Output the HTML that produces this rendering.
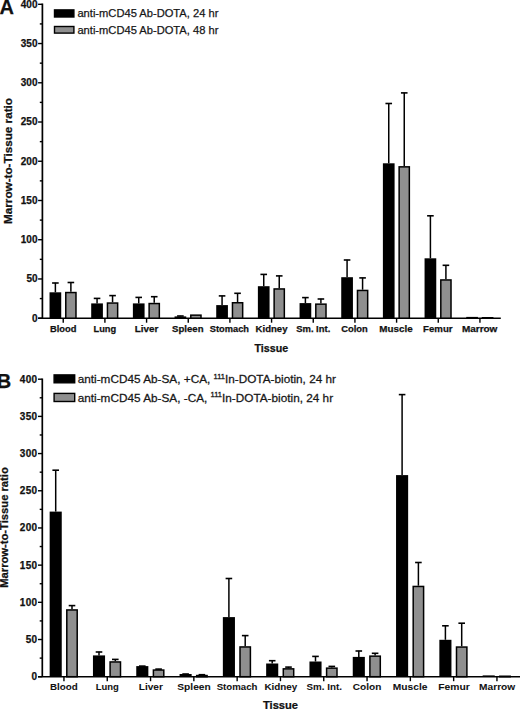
<!DOCTYPE html>
<html><head><meta charset="utf-8">
<style>
html,body{margin:0;padding:0;background:#fff;}
body{width:520px;height:709px;overflow:hidden;}
svg{display:block;}
text{font-family:"Liberation Sans",sans-serif;fill:#111;stroke:#111;stroke-width:0.25px;}
.tk{font-size:10px;font-weight:bold;text-anchor:end;}
.tkb{font-size:10px;font-weight:bold;text-anchor:end;letter-spacing:0.3px;}
.cl{font-weight:bold;}
.clb{font-size:9px;font-weight:bold;text-anchor:middle;letter-spacing:0.65px;}
.tt{font-size:11px;font-weight:bold;text-anchor:middle;}
.yt{font-size:11.3px;font-weight:bold;text-anchor:middle;}
.pl{font-size:20px;font-weight:bold;}
.lg{font-size:11.15px;fill:#1a1a1a;}
.lgb{font-size:11px;fill:#1a1a1a;}
.sup{font-size:7px;fill:#1a1a1a;}
</style></head>
<body>
<svg width="520" height="709" viewBox="0 0 520 709">
<rect width="520" height="709" fill="#fff"/>
<text x="-0.6" y="13.9" class="pl">A</text>
<text x="-3.2" y="387.6" class="pl">B</text>
<text class="yt" transform="translate(11.6,161) rotate(-90)" textLength="126" lengthAdjust="spacingAndGlyphs">Marrow-to-Tissue ratio</text>
<text class="yt" transform="translate(7.9,527.5) rotate(-90)" textLength="120.6" lengthAdjust="spacingAndGlyphs">Marrow-to-Tissue ratio</text>
<!-- legend A -->
<rect x="54.5" y="9.9" width="19.4" height="7.1" fill="#000" stroke="#000" stroke-width="1.4"/>
<rect x="54.5" y="26.5" width="19.4" height="6.6" fill="#8f8f8f" stroke="#000" stroke-width="1.4"/>
<text x="77.4" y="17.4" class="lg">anti-mCD45 Ab-DOTA, 24 hr</text>
<text x="77.4" y="33.7" class="lg">anti-mCD45 Ab-DOTA, 48 hr</text>
<!-- legend B -->
<rect x="54.1" y="374.9" width="20.6" height="7.9" fill="#000" stroke="#000" stroke-width="1.4"/>
<rect x="54.1" y="393.4" width="20.6" height="8.1" fill="#8f8f8f" stroke="#000" stroke-width="1.4"/>
<text transform="translate(77.7,383) scale(1.072,1)" class="lgb">anti-mCD45 Ab-SA, +CA, <tspan class="sup" dy="-4.4">111</tspan><tspan dy="4.4">In-DOTA-biotin, 24 hr</tspan></text>
<text transform="translate(77.7,401.5) scale(1.072,1)" class="lgb">anti-mCD45 Ab-SA, -CA, <tspan class="sup" dy="-4.4">111</tspan><tspan dy="4.4">In-DOTA-biotin, 24 hr</tspan></text>
<line x1="42.4" y1="3.5999999999999996" x2="42.4" y2="318.2" stroke="#000" stroke-width="1.7"/>
<line x1="38.1" y1="318.2" x2="500.8" y2="318.2" stroke="#000" stroke-width="1.5"/>
<line x1="38.1" y1="318.20" x2="42.4" y2="318.20" stroke="#000" stroke-width="1.4"/>
<text x="37.5" y="321.60" class="tk">0</text>
<line x1="39.8" y1="298.58" x2="42.4" y2="298.58" stroke="#000" stroke-width="1.4"/>
<line x1="38.1" y1="278.96" x2="42.4" y2="278.96" stroke="#000" stroke-width="1.4"/>
<text x="37.5" y="282.36" class="tk">50</text>
<line x1="39.8" y1="259.34" x2="42.4" y2="259.34" stroke="#000" stroke-width="1.4"/>
<line x1="38.1" y1="239.72" x2="42.4" y2="239.72" stroke="#000" stroke-width="1.4"/>
<text x="37.5" y="243.12" class="tk">100</text>
<line x1="39.8" y1="220.11" x2="42.4" y2="220.11" stroke="#000" stroke-width="1.4"/>
<line x1="38.1" y1="200.49" x2="42.4" y2="200.49" stroke="#000" stroke-width="1.4"/>
<text x="37.5" y="203.89" class="tk">150</text>
<line x1="39.8" y1="180.87" x2="42.4" y2="180.87" stroke="#000" stroke-width="1.4"/>
<line x1="38.1" y1="161.25" x2="42.4" y2="161.25" stroke="#000" stroke-width="1.4"/>
<text x="37.5" y="164.65" class="tk">200</text>
<line x1="39.8" y1="141.63" x2="42.4" y2="141.63" stroke="#000" stroke-width="1.4"/>
<line x1="38.1" y1="122.01" x2="42.4" y2="122.01" stroke="#000" stroke-width="1.4"/>
<text x="37.5" y="125.41" class="tk">250</text>
<line x1="39.8" y1="102.39" x2="42.4" y2="102.39" stroke="#000" stroke-width="1.4"/>
<line x1="38.1" y1="82.78" x2="42.4" y2="82.78" stroke="#000" stroke-width="1.4"/>
<text x="37.5" y="86.18" class="tk">300</text>
<line x1="39.8" y1="63.16" x2="42.4" y2="63.16" stroke="#000" stroke-width="1.4"/>
<line x1="38.1" y1="43.54" x2="42.4" y2="43.54" stroke="#000" stroke-width="1.4"/>
<text x="37.5" y="46.94" class="tk">350</text>
<line x1="39.8" y1="23.92" x2="42.4" y2="23.92" stroke="#000" stroke-width="1.4"/>
<line x1="38.1" y1="4.30" x2="42.4" y2="4.30" stroke="#000" stroke-width="1.4"/>
<text x="37.5" y="7.70" class="tk">400</text>
<line x1="63.23" y1="318.2" x2="63.23" y2="322.7" stroke="#000" stroke-width="1.4"/>
<text x="50.00" y="331.6" class="cl" style="font-size:9.8px;stroke-width:0.25px" textLength="26.40" lengthAdjust="spacingAndGlyphs">Blood</text>
<line x1="55.38" y1="282.80" x2="55.38" y2="292.30" stroke="#000" stroke-width="1.5"/>
<line x1="52.09" y1="283.00" x2="58.68" y2="283.00" stroke="#000" stroke-width="1.6"/>
<rect x="49.53" y="292.30" width="11.70" height="25.90" fill="#000"/>
<line x1="70.88" y1="282.30" x2="70.88" y2="291.80" stroke="#000" stroke-width="1.5"/>
<line x1="67.58" y1="282.50" x2="74.18" y2="282.50" stroke="#000" stroke-width="1.6"/>
<rect x="65.78" y="292.55" width="10.20" height="25.65" fill="#8f8f8f" stroke="#000" stroke-width="1.5"/>
<line x1="104.91" y1="318.2" x2="104.91" y2="322.7" stroke="#000" stroke-width="1.4"/>
<text x="93.50" y="331.6" class="cl" style="font-size:9.8px;stroke-width:0.25px" textLength="22.70" lengthAdjust="spacingAndGlyphs">Lung</text>
<line x1="97.06" y1="298.20" x2="97.06" y2="303.40" stroke="#000" stroke-width="1.5"/>
<line x1="93.76" y1="298.40" x2="100.36" y2="298.40" stroke="#000" stroke-width="1.6"/>
<rect x="91.20" y="303.40" width="11.70" height="14.80" fill="#000"/>
<line x1="112.56" y1="295.40" x2="112.56" y2="302.30" stroke="#000" stroke-width="1.5"/>
<line x1="109.26" y1="295.60" x2="115.86" y2="295.60" stroke="#000" stroke-width="1.6"/>
<rect x="107.45" y="303.05" width="10.20" height="15.15" fill="#8f8f8f" stroke="#000" stroke-width="1.5"/>
<line x1="146.58" y1="318.2" x2="146.58" y2="322.7" stroke="#000" stroke-width="1.4"/>
<text x="134.70" y="331.6" class="cl" style="font-size:9.8px;stroke-width:0.25px" textLength="23.60" lengthAdjust="spacingAndGlyphs">Liver</text>
<line x1="138.73" y1="297.20" x2="138.73" y2="303.40" stroke="#000" stroke-width="1.5"/>
<line x1="135.43" y1="297.40" x2="142.03" y2="297.40" stroke="#000" stroke-width="1.6"/>
<rect x="132.88" y="303.40" width="11.70" height="14.80" fill="#000"/>
<line x1="154.23" y1="296.50" x2="154.23" y2="302.80" stroke="#000" stroke-width="1.5"/>
<line x1="150.93" y1="296.70" x2="157.53" y2="296.70" stroke="#000" stroke-width="1.6"/>
<rect x="149.13" y="303.55" width="10.20" height="14.65" fill="#8f8f8f" stroke="#000" stroke-width="1.5"/>
<line x1="188.25" y1="318.2" x2="188.25" y2="322.7" stroke="#000" stroke-width="1.4"/>
<text x="172.00" y="331.6" class="cl" style="font-size:9.8px;stroke-width:0.25px" textLength="31.50" lengthAdjust="spacingAndGlyphs">Spleen</text>
<line x1="180.40" y1="315.80" x2="180.40" y2="316.40" stroke="#000" stroke-width="1.5"/>
<line x1="177.09" y1="316.00" x2="183.70" y2="316.00" stroke="#000" stroke-width="1.6"/>
<rect x="174.55" y="316.40" width="11.70" height="1.80" fill="#000"/>
<rect x="190.80" y="315.15" width="10.20" height="3.05" fill="#8f8f8f" stroke="#000" stroke-width="1.5"/>
<line x1="229.92" y1="318.2" x2="229.92" y2="322.7" stroke="#000" stroke-width="1.4"/>
<text x="209.80" y="331.6" class="cl" style="font-size:9.8px;stroke-width:0.25px" textLength="39.20" lengthAdjust="spacingAndGlyphs">Stomach</text>
<line x1="222.07" y1="295.70" x2="222.07" y2="305.10" stroke="#000" stroke-width="1.5"/>
<line x1="218.77" y1="295.90" x2="225.37" y2="295.90" stroke="#000" stroke-width="1.6"/>
<rect x="216.22" y="305.10" width="11.70" height="13.10" fill="#000"/>
<line x1="237.57" y1="293.10" x2="237.57" y2="302.00" stroke="#000" stroke-width="1.5"/>
<line x1="234.27" y1="293.30" x2="240.87" y2="293.30" stroke="#000" stroke-width="1.6"/>
<rect x="232.47" y="302.75" width="10.20" height="15.45" fill="#8f8f8f" stroke="#000" stroke-width="1.5"/>
<line x1="271.58" y1="318.2" x2="271.58" y2="322.7" stroke="#000" stroke-width="1.4"/>
<text x="255.60" y="331.6" class="cl" style="font-size:9.8px;stroke-width:0.25px" textLength="31.90" lengthAdjust="spacingAndGlyphs">Kidney</text>
<line x1="263.74" y1="274.20" x2="263.74" y2="286.20" stroke="#000" stroke-width="1.5"/>
<line x1="260.44" y1="274.40" x2="267.04" y2="274.40" stroke="#000" stroke-width="1.6"/>
<rect x="257.88" y="286.20" width="11.70" height="32.00" fill="#000"/>
<line x1="279.24" y1="275.70" x2="279.24" y2="288.20" stroke="#000" stroke-width="1.5"/>
<line x1="275.94" y1="275.90" x2="282.54" y2="275.90" stroke="#000" stroke-width="1.6"/>
<rect x="274.13" y="288.95" width="10.20" height="29.25" fill="#8f8f8f" stroke="#000" stroke-width="1.5"/>
<line x1="313.25" y1="318.2" x2="313.25" y2="322.7" stroke="#000" stroke-width="1.4"/>
<text x="296.20" y="331.6" class="cl" style="font-size:9.8px;stroke-width:0.25px" textLength="34.10" lengthAdjust="spacingAndGlyphs">Sm. Int.</text>
<line x1="305.40" y1="297.40" x2="305.40" y2="303.10" stroke="#000" stroke-width="1.5"/>
<line x1="302.10" y1="297.60" x2="308.70" y2="297.60" stroke="#000" stroke-width="1.6"/>
<rect x="299.56" y="303.10" width="11.70" height="15.10" fill="#000"/>
<line x1="320.90" y1="298.80" x2="320.90" y2="303.40" stroke="#000" stroke-width="1.5"/>
<line x1="317.60" y1="299.00" x2="324.20" y2="299.00" stroke="#000" stroke-width="1.6"/>
<rect x="315.81" y="304.15" width="10.20" height="14.05" fill="#8f8f8f" stroke="#000" stroke-width="1.5"/>
<line x1="354.93" y1="318.2" x2="354.93" y2="322.7" stroke="#000" stroke-width="1.4"/>
<text x="341.20" y="331.6" class="cl" style="font-size:9.8px;stroke-width:0.25px" textLength="26.50" lengthAdjust="spacingAndGlyphs">Colon</text>
<line x1="347.08" y1="259.80" x2="347.08" y2="277.20" stroke="#000" stroke-width="1.5"/>
<line x1="343.78" y1="260.00" x2="350.38" y2="260.00" stroke="#000" stroke-width="1.6"/>
<rect x="341.23" y="277.20" width="11.70" height="41.00" fill="#000"/>
<line x1="362.58" y1="277.70" x2="362.58" y2="289.70" stroke="#000" stroke-width="1.5"/>
<line x1="359.28" y1="277.90" x2="365.88" y2="277.90" stroke="#000" stroke-width="1.6"/>
<rect x="357.48" y="290.45" width="10.20" height="27.75" fill="#8f8f8f" stroke="#000" stroke-width="1.5"/>
<line x1="396.59" y1="318.2" x2="396.59" y2="322.7" stroke="#000" stroke-width="1.4"/>
<text x="379.30" y="331.6" class="cl" style="font-size:9.8px;stroke-width:0.25px" textLength="33.30" lengthAdjust="spacingAndGlyphs">Muscle</text>
<line x1="388.75" y1="103.30" x2="388.75" y2="163.30" stroke="#000" stroke-width="1.5"/>
<line x1="385.44" y1="103.50" x2="392.05" y2="103.50" stroke="#000" stroke-width="1.6"/>
<rect x="382.89" y="163.30" width="11.70" height="154.90" fill="#000"/>
<line x1="404.25" y1="92.70" x2="404.25" y2="166.10" stroke="#000" stroke-width="1.5"/>
<line x1="400.94" y1="92.90" x2="407.55" y2="92.90" stroke="#000" stroke-width="1.6"/>
<rect x="399.14" y="166.85" width="10.20" height="151.35" fill="#8f8f8f" stroke="#000" stroke-width="1.5"/>
<line x1="438.26" y1="318.2" x2="438.26" y2="322.7" stroke="#000" stroke-width="1.4"/>
<text x="423.10" y="331.6" class="cl" style="font-size:9.8px;stroke-width:0.25px" textLength="29.50" lengthAdjust="spacingAndGlyphs">Femur</text>
<line x1="430.41" y1="215.60" x2="430.41" y2="258.30" stroke="#000" stroke-width="1.5"/>
<line x1="427.11" y1="215.80" x2="433.71" y2="215.80" stroke="#000" stroke-width="1.6"/>
<rect x="424.56" y="258.30" width="11.70" height="59.90" fill="#000"/>
<line x1="445.91" y1="265.10" x2="445.91" y2="279.20" stroke="#000" stroke-width="1.5"/>
<line x1="442.61" y1="265.30" x2="449.21" y2="265.30" stroke="#000" stroke-width="1.6"/>
<rect x="440.81" y="279.95" width="10.20" height="38.25" fill="#8f8f8f" stroke="#000" stroke-width="1.5"/>
<line x1="479.94" y1="318.2" x2="479.94" y2="322.7" stroke="#000" stroke-width="1.4"/>
<text x="461.90" y="331.6" class="cl" style="font-size:9.8px;stroke-width:0.25px" textLength="35.48" lengthAdjust="spacingAndGlyphs">Marrow</text>
<rect x="466.24" y="316.90" width="11.70" height="1.30" fill="#000"/>
<rect x="482.49" y="317.75" width="10.20" height="0.45" fill="#8f8f8f" stroke="#000" stroke-width="1.5"/>
<text x="271.35" y="352.3" class="tt" style="font-size:11px" textLength="33.6" lengthAdjust="spacingAndGlyphs">Tissue</text>
<line x1="42.3" y1="378.5" x2="42.3" y2="676.7" stroke="#000" stroke-width="1.7"/>
<line x1="38.0" y1="676.7" x2="521" y2="676.7" stroke="#000" stroke-width="1.5"/>
<line x1="38.0" y1="676.70" x2="42.3" y2="676.70" stroke="#000" stroke-width="1.4"/>
<text x="37.4" y="680.10" class="tkb">0</text>
<line x1="39.699999999999996" y1="658.11" x2="42.3" y2="658.11" stroke="#000" stroke-width="1.4"/>
<line x1="38.0" y1="639.51" x2="42.3" y2="639.51" stroke="#000" stroke-width="1.4"/>
<text x="37.4" y="642.91" class="tkb">50</text>
<line x1="39.699999999999996" y1="620.92" x2="42.3" y2="620.92" stroke="#000" stroke-width="1.4"/>
<line x1="38.0" y1="602.33" x2="42.3" y2="602.33" stroke="#000" stroke-width="1.4"/>
<text x="37.4" y="605.73" class="tkb">100</text>
<line x1="39.699999999999996" y1="583.73" x2="42.3" y2="583.73" stroke="#000" stroke-width="1.4"/>
<line x1="38.0" y1="565.14" x2="42.3" y2="565.14" stroke="#000" stroke-width="1.4"/>
<text x="37.4" y="568.54" class="tkb">150</text>
<line x1="39.699999999999996" y1="546.54" x2="42.3" y2="546.54" stroke="#000" stroke-width="1.4"/>
<line x1="38.0" y1="527.95" x2="42.3" y2="527.95" stroke="#000" stroke-width="1.4"/>
<text x="37.4" y="531.35" class="tkb">200</text>
<line x1="39.699999999999996" y1="509.36" x2="42.3" y2="509.36" stroke="#000" stroke-width="1.4"/>
<line x1="38.0" y1="490.76" x2="42.3" y2="490.76" stroke="#000" stroke-width="1.4"/>
<text x="37.4" y="494.16" class="tkb">250</text>
<line x1="39.699999999999996" y1="472.17" x2="42.3" y2="472.17" stroke="#000" stroke-width="1.4"/>
<line x1="38.0" y1="453.57" x2="42.3" y2="453.57" stroke="#000" stroke-width="1.4"/>
<text x="37.4" y="456.97" class="tkb">300</text>
<line x1="39.699999999999996" y1="434.98" x2="42.3" y2="434.98" stroke="#000" stroke-width="1.4"/>
<line x1="38.0" y1="416.39" x2="42.3" y2="416.39" stroke="#000" stroke-width="1.4"/>
<text x="37.4" y="419.79" class="tkb">350</text>
<line x1="39.699999999999996" y1="397.79" x2="42.3" y2="397.79" stroke="#000" stroke-width="1.4"/>
<line x1="38.0" y1="379.20" x2="42.3" y2="379.20" stroke="#000" stroke-width="1.4"/>
<text x="37.4" y="382.60" class="tkb">400</text>
<line x1="63.95" y1="676.7" x2="63.95" y2="681.2" stroke="#000" stroke-width="1.4"/>
<text x="50.00" y="689.7" class="cl" style="font-size:9.0px;stroke-width:0.05px" textLength="27.70" lengthAdjust="spacingAndGlyphs">Blood</text>
<line x1="55.70" y1="470.00" x2="55.70" y2="511.60" stroke="#000" stroke-width="1.5"/>
<line x1="52.40" y1="470.20" x2="59.00" y2="470.20" stroke="#000" stroke-width="1.6"/>
<rect x="49.65" y="511.60" width="12.10" height="165.10" fill="#000"/>
<line x1="72.00" y1="605.40" x2="72.00" y2="609.20" stroke="#000" stroke-width="1.5"/>
<line x1="68.70" y1="605.60" x2="75.30" y2="605.60" stroke="#000" stroke-width="1.6"/>
<rect x="66.80" y="609.95" width="10.40" height="66.75" fill="#8f8f8f" stroke="#000" stroke-width="1.5"/>
<line x1="107.25" y1="676.7" x2="107.25" y2="681.2" stroke="#000" stroke-width="1.4"/>
<text x="95.70" y="689.7" class="cl" style="font-size:9.0px;stroke-width:0.05px" textLength="23.10" lengthAdjust="spacingAndGlyphs">Lung</text>
<line x1="99.00" y1="651.80" x2="99.00" y2="655.40" stroke="#000" stroke-width="1.5"/>
<line x1="95.70" y1="652.00" x2="102.30" y2="652.00" stroke="#000" stroke-width="1.6"/>
<rect x="92.95" y="655.40" width="12.10" height="21.30" fill="#000"/>
<line x1="115.30" y1="659.20" x2="115.30" y2="661.20" stroke="#000" stroke-width="1.5"/>
<line x1="112.00" y1="659.40" x2="118.60" y2="659.40" stroke="#000" stroke-width="1.6"/>
<rect x="110.10" y="661.95" width="10.40" height="14.75" fill="#8f8f8f" stroke="#000" stroke-width="1.5"/>
<line x1="150.55" y1="676.7" x2="150.55" y2="681.2" stroke="#000" stroke-width="1.4"/>
<text x="138.80" y="689.7" class="cl" style="font-size:9.0px;stroke-width:0.05px" textLength="24.10" lengthAdjust="spacingAndGlyphs">Liver</text>
<line x1="139.00" y1="666.10" x2="145.60" y2="666.10" stroke="#000" stroke-width="1.6"/>
<rect x="136.25" y="666.10" width="12.10" height="10.60" fill="#000"/>
<line x1="158.60" y1="668.90" x2="158.60" y2="669.30" stroke="#000" stroke-width="1.5"/>
<line x1="155.30" y1="669.10" x2="161.90" y2="669.10" stroke="#000" stroke-width="1.6"/>
<rect x="153.40" y="670.05" width="10.40" height="6.65" fill="#8f8f8f" stroke="#000" stroke-width="1.5"/>
<line x1="193.85" y1="676.7" x2="193.85" y2="681.2" stroke="#000" stroke-width="1.4"/>
<text x="177.30" y="689.7" class="cl" style="font-size:9.0px;stroke-width:0.05px" textLength="33.40" lengthAdjust="spacingAndGlyphs">Spleen</text>
<line x1="182.30" y1="674.00" x2="188.90" y2="674.00" stroke="#000" stroke-width="1.6"/>
<rect x="179.55" y="674.00" width="12.10" height="2.70" fill="#000"/>
<line x1="198.60" y1="674.70" x2="205.20" y2="674.70" stroke="#000" stroke-width="1.6"/>
<rect x="196.70" y="675.55" width="10.40" height="1.15" fill="#8f8f8f" stroke="#000" stroke-width="1.5"/>
<line x1="237.15" y1="676.7" x2="237.15" y2="681.2" stroke="#000" stroke-width="1.4"/>
<text x="216.70" y="689.7" class="cl" style="font-size:9.0px;stroke-width:0.05px" textLength="40.70" lengthAdjust="spacingAndGlyphs">Stomach</text>
<line x1="228.90" y1="578.30" x2="228.90" y2="617.10" stroke="#000" stroke-width="1.5"/>
<line x1="225.60" y1="578.50" x2="232.20" y2="578.50" stroke="#000" stroke-width="1.6"/>
<rect x="222.85" y="617.10" width="12.10" height="59.60" fill="#000"/>
<line x1="245.20" y1="635.40" x2="245.20" y2="646.20" stroke="#000" stroke-width="1.5"/>
<line x1="241.90" y1="635.60" x2="248.50" y2="635.60" stroke="#000" stroke-width="1.6"/>
<rect x="240.00" y="646.95" width="10.40" height="29.75" fill="#8f8f8f" stroke="#000" stroke-width="1.5"/>
<line x1="280.45" y1="676.7" x2="280.45" y2="681.2" stroke="#000" stroke-width="1.4"/>
<text x="264.40" y="689.7" class="cl" style="font-size:9.0px;stroke-width:0.05px" textLength="32.90" lengthAdjust="spacingAndGlyphs">Kidney</text>
<line x1="272.20" y1="660.50" x2="272.20" y2="663.50" stroke="#000" stroke-width="1.5"/>
<line x1="268.90" y1="660.70" x2="275.50" y2="660.70" stroke="#000" stroke-width="1.6"/>
<rect x="266.15" y="663.50" width="12.10" height="13.20" fill="#000"/>
<line x1="288.50" y1="666.90" x2="288.50" y2="668.10" stroke="#000" stroke-width="1.5"/>
<line x1="285.20" y1="667.10" x2="291.80" y2="667.10" stroke="#000" stroke-width="1.6"/>
<rect x="283.30" y="668.85" width="10.40" height="7.85" fill="#8f8f8f" stroke="#000" stroke-width="1.5"/>
<line x1="323.75" y1="676.7" x2="323.75" y2="681.2" stroke="#000" stroke-width="1.4"/>
<text x="306.60" y="689.7" class="cl" style="font-size:9.0px;stroke-width:0.05px" textLength="35.30" lengthAdjust="spacingAndGlyphs">Sm. Int.</text>
<line x1="315.50" y1="656.20" x2="315.50" y2="661.50" stroke="#000" stroke-width="1.5"/>
<line x1="312.20" y1="656.40" x2="318.80" y2="656.40" stroke="#000" stroke-width="1.6"/>
<rect x="309.45" y="661.50" width="12.10" height="15.20" fill="#000"/>
<line x1="331.80" y1="666.20" x2="331.80" y2="667.40" stroke="#000" stroke-width="1.5"/>
<line x1="328.50" y1="666.40" x2="335.10" y2="666.40" stroke="#000" stroke-width="1.6"/>
<rect x="326.60" y="668.15" width="10.40" height="8.55" fill="#8f8f8f" stroke="#000" stroke-width="1.5"/>
<line x1="367.05" y1="676.7" x2="367.05" y2="681.2" stroke="#000" stroke-width="1.4"/>
<text x="352.80" y="689.7" class="cl" style="font-size:9.0px;stroke-width:0.05px" textLength="28.50" lengthAdjust="spacingAndGlyphs">Colon</text>
<line x1="358.80" y1="650.80" x2="358.80" y2="656.90" stroke="#000" stroke-width="1.5"/>
<line x1="355.50" y1="651.00" x2="362.10" y2="651.00" stroke="#000" stroke-width="1.6"/>
<rect x="352.75" y="656.90" width="12.10" height="19.80" fill="#000"/>
<line x1="375.10" y1="653.10" x2="375.10" y2="655.40" stroke="#000" stroke-width="1.5"/>
<line x1="371.80" y1="653.30" x2="378.40" y2="653.30" stroke="#000" stroke-width="1.6"/>
<rect x="369.90" y="656.15" width="10.40" height="20.55" fill="#8f8f8f" stroke="#000" stroke-width="1.5"/>
<line x1="410.35" y1="676.7" x2="410.35" y2="681.2" stroke="#000" stroke-width="1.4"/>
<text x="392.80" y="689.7" class="cl" style="font-size:9.0px;stroke-width:0.05px" textLength="34.60" lengthAdjust="spacingAndGlyphs">Muscle</text>
<line x1="402.10" y1="394.40" x2="402.10" y2="475.10" stroke="#000" stroke-width="1.5"/>
<line x1="398.80" y1="394.60" x2="405.40" y2="394.60" stroke="#000" stroke-width="1.6"/>
<rect x="396.05" y="475.10" width="12.10" height="201.60" fill="#000"/>
<line x1="418.40" y1="562.30" x2="418.40" y2="585.70" stroke="#000" stroke-width="1.5"/>
<line x1="415.10" y1="562.50" x2="421.70" y2="562.50" stroke="#000" stroke-width="1.6"/>
<rect x="413.20" y="586.45" width="10.40" height="90.25" fill="#8f8f8f" stroke="#000" stroke-width="1.5"/>
<line x1="453.65" y1="676.7" x2="453.65" y2="681.2" stroke="#000" stroke-width="1.4"/>
<text x="438.30" y="689.7" class="cl" style="font-size:9.0px;stroke-width:0.05px" textLength="31.50" lengthAdjust="spacingAndGlyphs">Femur</text>
<line x1="445.40" y1="625.60" x2="445.40" y2="639.80" stroke="#000" stroke-width="1.5"/>
<line x1="442.10" y1="625.80" x2="448.70" y2="625.80" stroke="#000" stroke-width="1.6"/>
<rect x="439.35" y="639.80" width="12.10" height="36.90" fill="#000"/>
<line x1="461.70" y1="623.00" x2="461.70" y2="646.30" stroke="#000" stroke-width="1.5"/>
<line x1="458.40" y1="623.20" x2="465.00" y2="623.20" stroke="#000" stroke-width="1.6"/>
<rect x="456.50" y="647.05" width="10.40" height="29.65" fill="#8f8f8f" stroke="#000" stroke-width="1.5"/>
<line x1="496.95" y1="676.7" x2="496.95" y2="681.2" stroke="#000" stroke-width="1.4"/>
<text x="479.10" y="689.7" class="cl" style="font-size:9.0px;stroke-width:0.05px" textLength="36.08" lengthAdjust="spacingAndGlyphs">Marrow</text>
<rect x="482.65" y="675.40" width="12.10" height="1.30" fill="#000"/>
<rect x="499.80" y="676.25" width="10.40" height="0.45" fill="#8f8f8f" stroke="#000" stroke-width="1.5"/>
<text x="280.5" y="709.3" class="tt" style="font-size:11.5px" textLength="35.1" lengthAdjust="spacingAndGlyphs">Tissue</text>
</svg>
</body></html>
